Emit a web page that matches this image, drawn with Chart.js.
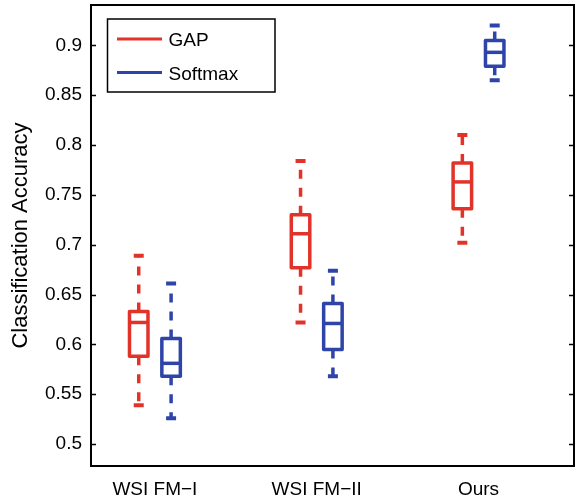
<!DOCTYPE html>
<html>
<head>
<meta charset="utf-8">
<script src="https://cdn.jsdelivr.net/npm/chart.js@4.4.0/dist/chart.umd.min.js"></script>
<style>
    html, body { margin: 0; padding: 0; background: #fff; }
    #wrap { width: 575px; height: 503px; }
</style>
</head>
<body>
<div id="wrap"><canvas id="chart"></canvas></div>
<script>
// Categories and tick labels
const categories = ['WSI FM\u2212I', 'WSI FM\u2212II', 'Ours'];
const yTicks = [0.5, 0.55, 0.6, 0.65, 0.7, 0.75, 0.8, 0.85, 0.9];
const seriesNames = ['GAP', 'Softmax'];
const seriesColors = ['#e2332a', '#2f44a8'];

// GAP box stats (whisker low, q1, median, q3, whisker high)
const gapLow  = [0.539, 0.622, 0.702];
const gapQ1   = [0.588, 0.677, 0.736];
const gapMed  = [0.622, 0.711, 0.763];
const gapQ3   = [0.633, 0.730, 0.782];
const gapHigh = [0.689, 0.784, 0.810];

// Softmax box stats
const softLow  = [0.526, 0.568, 0.865];
const softQ1   = [0.568, 0.595, 0.879];
const softMed  = [0.581, 0.621, 0.893];
const softQ3   = [0.606, 0.641, 0.905];
const softHigh = [0.661, 0.674, 0.920];

const groupPos = [1, 2, 3];
const seriesOffset = [-0.1, 0.1];

function boxData(low, q1, med, q3, high, off) {
    return groupPos.map((p, i) => ({
        x: p + off, y: med[i],
        low: low[i], q1: q1[i], med: med[i], q3: q3[i], high: high[i]
    }));
}

const FONT = '"Liberation Sans", Arial, Helvetica, sans-serif';
Chart.defaults.color = '#000';
Chart.defaults.font.family = FONT;

// Draw the boxes, whiskers and medians through the scales
const boxPlot = {
    id: 'boxPlot',
    afterDatasetsDraw(chart) {
        const { ctx, scales: { x, y } } = chart;
        const half = 9.25, capHalf = 5;
        chart.data.datasets.forEach(ds => {
            ds.data.forEach(d => {
                const cx = x.getPixelForValue(d.x);
                const yLow = y.getPixelForValue(d.low);
                const yQ1 = y.getPixelForValue(d.q1);
                const yMed = y.getPixelForValue(d.med);
                const yQ3 = y.getPixelForValue(d.q3);
                const yHigh = y.getPixelForValue(d.high);
                ctx.save();
                ctx.strokeStyle = ds.borderColor;
                ctx.lineWidth = 3.5;
                ctx.lineCap = 'butt';
                // whiskers
                ctx.setLineDash([9, 9]);
                ctx.beginPath();
                ctx.moveTo(cx, yQ3); ctx.lineTo(cx, yHigh);
                ctx.moveTo(cx, yQ1); ctx.lineTo(cx, yLow);
                ctx.stroke();
                ctx.setLineDash([]);
                // caps
                ctx.lineWidth = 4;
                ctx.beginPath();
                ctx.moveTo(cx - capHalf, yHigh); ctx.lineTo(cx + capHalf, yHigh);
                ctx.moveTo(cx - capHalf, yLow); ctx.lineTo(cx + capHalf, yLow);
                ctx.stroke();
                // box
                ctx.lineWidth = 3.5;
                ctx.lineJoin = 'round';
                ctx.fillStyle = '#fff';
                ctx.fillRect(cx - half, yQ3, half * 2, yQ1 - yQ3);
                ctx.strokeRect(cx - half, yQ3, half * 2, yQ1 - yQ3);
                // median
                ctx.beginPath();
                ctx.moveTo(cx - half, yMed); ctx.lineTo(cx + half, yMed);
                ctx.stroke();
                ctx.restore();
            });
        });
    }
};

// Frame, inward ticks and the boxed legend
const frame = {
    id: 'frame',
    afterDraw(chart) {
        const { ctx, chartArea: a, scales: { y } } = chart;
        ctx.save();
        ctx.strokeStyle = '#000';
        ctx.lineWidth = 1.5;
        ctx.beginPath();
        yTicks.forEach(v => {
            const py = Math.round(y.getPixelForValue(v)) + 0.5;
            ctx.moveTo(a.left, py); ctx.lineTo(a.left + 5, py);
            ctx.moveTo(a.right - 5, py); ctx.lineTo(a.right, py);
        });
        ctx.stroke();
        ctx.lineWidth = 2;
        ctx.strokeRect(a.left, a.top, a.right - a.left, a.bottom - a.top);

        // legend
        const lx = a.left + 16.5, ly = a.top + 14;
        ctx.lineWidth = 1.5;
        ctx.strokeRect(lx, ly, 167.5, 73);
        ctx.font = '19px ' + FONT;
        ctx.textBaseline = 'middle';
        ctx.textAlign = 'left';
        chart.data.datasets.forEach((ds, i) => {
            const rowY = ly + 20 + i * 33.5;
            ctx.strokeStyle = ds.borderColor;
            ctx.lineWidth = 3;
            ctx.beginPath();
            ctx.moveTo(lx + 9.5, rowY); ctx.lineTo(lx + 54.5, rowY);
            ctx.stroke();
            ctx.fillStyle = '#000';
            ctx.fillText(ds.label, lx + 61, rowY + 2);
        });
        ctx.restore();
    }
};

new Chart(document.getElementById('chart'), {
    type: 'scatter',
    data: {
        datasets: [
            {
                label: seriesNames[0],
                data: boxData(gapLow, gapQ1, gapMed, gapQ3, gapHigh, seriesOffset[0]),
                borderColor: seriesColors[0],
                backgroundColor: seriesColors[0],
                pointRadius: 0
            },
            {
                label: seriesNames[1],
                data: boxData(softLow, softQ1, softMed, softQ3, softHigh, seriesOffset[1]),
                borderColor: seriesColors[1],
                backgroundColor: seriesColors[1],
                pointRadius: 0
            }
        ]
    },
    options: {
        responsive: true,
        maintainAspectRatio: false,
        animation: false,
        layout: { padding: { top: 5, right: 1, left: 0, bottom: 0 } },
        plugins: {
            legend: { display: false },
            tooltip: { enabled: false }
        },
        scales: {
            x: {
                type: 'linear',
                min: 0.605,
                max: 3.59,
                grid: { display: false, drawTicks: false },
                border: { display: false },
                afterBuildTicks: scale => { scale.ticks = groupPos.map(v => ({ value: v })); },
                afterFit: scale => {
                    scale.height = 37;
                    scale.paddingLeft = 0;
                    scale.paddingRight = 0;
                },
                ticks: {
                    padding: 12,
                    maxRotation: 0,
                    font: { size: 19 },
                    callback: v => categories[groupPos.indexOf(v)] || ''
                }
            },
            y: {
                min: 0.478,
                max: 0.9405,
                grid: { display: false, drawTicks: false },
                border: { display: false },
                afterBuildTicks: scale => { scale.ticks = yTicks.map(v => ({ value: v })); },
                afterFit: scale => {
                    scale.width = 91;
                    scale.paddingTop = 0;
                    scale.paddingBottom = 0;
                },
                ticks: {
                    padding: 9,
                    font: { size: 19 },
                    callback: v => String(Math.round(v * 100) / 100)
                },
                title: {
                    display: true,
                    text: 'Classification Accuracy',
                    font: { size: 22 },
                    padding: { top: 8, bottom: 0 }
                }
            }
        }
    },
    plugins: [boxPlot, frame]
});
</script>
</body>
</html>
